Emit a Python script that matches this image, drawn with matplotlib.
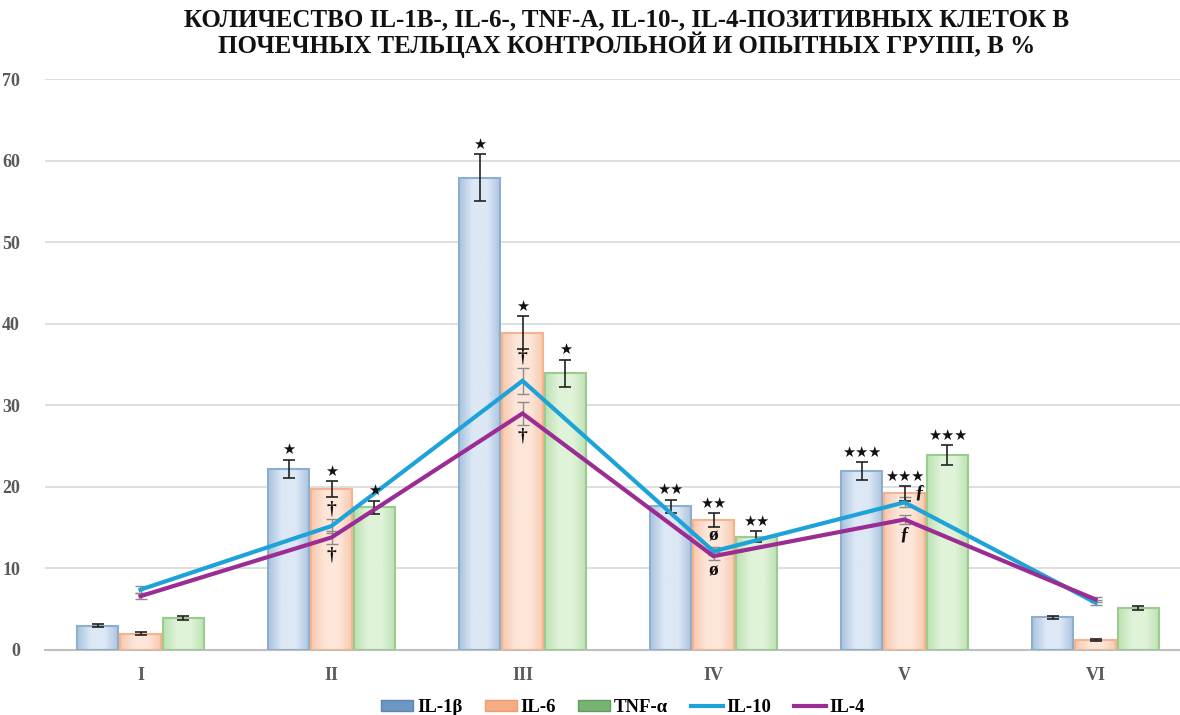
import numpy as np
import matplotlib.pyplot as plt
from matplotlib.patches import Patch
from matplotlib.lines import Line2D

groups = ['I', 'II', 'III', 'IV', 'V', 'VI']

il1b = [3.0, 22.2, 57.9, 17.6, 21.9, 4.0]
il1b_err = [0.2, 1.15, 2.9, 0.85, 1.1, 0.2]
il6 = [2.0, 19.7, 38.9, 15.9, 19.2, 1.2]
il6_err = [0.15, 1.0, 2.0, 0.85, 0.9, 0.1]
tnfa = [3.9, 17.5, 33.9, 13.9, 23.9, 5.1]
tnfa_err = [0.25, 0.8, 1.7, 0.7, 1.2, 0.25]

il10 = [7.4, 15.2, 33.0, 12.1, 18.1, 5.8]
il10_err = [0.4, 0.8, 1.6, 0.5, 0.6, 0.3]
il4 = [6.6, 13.8, 29.0, 11.5, 16.0, 6.2]
il4_err = [0.4, 0.8, 1.4, 0.5, 0.6, 0.3]

# significance marks over the bars, and marks tied to the IL-10 / IL-4 lines
bar_marks = ['', '★', '★', '★★', '★★★', '']
il10_marks = ['', '†', '†', 'ø', 'ƒ', '']
il4_marks = ['', '†', '†', 'ø', 'ƒ', '']

serif = ['Liberation Serif', 'DejaVu Serif']

fig = plt.figure(figsize=(11.8, 7.15), dpi=100)
ax = fig.add_axes([45 / 1180, 65 / 715, 1146 / 1180, 571 / 715])

x = np.arange(len(groups))
width = 0.215
offsets = [-0.225, 0.0, 0.225]

bar_series = [
    (il1b, il1b_err, ('#a9c3df', '#dde8f5'), '#8fadcc'),
    (il6, il6_err, ('#f8c9ae', '#fde6d9'), '#f3b48f'),
    (tnfa, tnfa_err, ('#bde1b3', '#dff3d8'), '#9bcb8f'),
]

for (vals, errs, (c_edge, c_mid), border), off in zip(bar_series, offsets):
    cmap = plt.matplotlib.colors.LinearSegmentedColormap.from_list('g', [c_edge, c_mid, c_mid, c_edge])
    grad = np.linspace(0, 1, 64).reshape(1, -1)
    for xi, v in zip(x + off, vals):
        ax.imshow(grad, cmap=cmap, aspect='auto', zorder=2,
                  extent=(xi - width / 2, xi + width / 2, 0, v))
    ax.bar(x + off, vals, width, facecolor='none', edgecolor=border, linewidth=1.5, zorder=3)
    ax.errorbar(x + off, vals, yerr=errs, fmt='none', ecolor='#222222',
                elinewidth=1.2, capsize=4, capthick=1.2, zorder=5)
    for xi, v, e, m in zip(x + off, vals, errs, bar_marks):
        if m:
            ax.text(xi, v + e + 0.3, m, ha='center', va='bottom', fontsize=10.5,
                    family='DejaVu Sans', color='#111111', zorder=6)

ax.errorbar(x, il10, yerr=il10_err, fmt='none', ecolor='#8c8c8c',
            elinewidth=1, capsize=4, capthick=1, zorder=4)
ax.errorbar(x, il4, yerr=il4_err, fmt='none', ecolor='#8c8c8c',
            elinewidth=1, capsize=4, capthick=1, zorder=4)
ax.plot(x, il10, color='#1ea3d8', linewidth=3, zorder=5, solid_joinstyle='miter')
ax.plot(x, il4, color='#9b2c93', linewidth=3, zorder=5, solid_joinstyle='miter')

for xi, v, e, m in zip(x, il10, il10_err, il10_marks):
    if m == 'ƒ':
        ax.text(xi + 0.08, v + e + 0.6, m, ha='center', va='center', fontsize=14,
                weight='bold', family=serif, color='#111111', zorder=6)
    elif m:
        ax.text(xi, v + e + 0.3, m, ha='center', va='bottom', fontsize=14,
                weight='bold', family=serif, color='#111111', zorder=6)
for xi, v, e, m in zip(x, il4, il4_err, il4_marks):
    if m:
        ax.text(xi, v - e - 0.3, m, ha='center', va='top', fontsize=14,
                weight='bold', family=serif, color='#111111', zorder=6)

ax.set_xlim(-0.5, 5.5)
ax.set_ylim(0, 70)
ax.set_yticks(range(0, 71, 10))
ax.set_xticks(x)
ax.set_xticklabels(groups)
ax.yaxis.grid(True, color='#d9d9d9', linewidth=1.2)
ax.set_axisbelow(True)
for s in ['top', 'right', 'left']:
    ax.spines[s].set_visible(False)
ax.spines['bottom'].set_color('#bfbfbf')
ax.spines['bottom'].set_linewidth(1.5)
ax.tick_params(length=0, pad=12)
for lbl in ax.get_xticklabels() + ax.get_yticklabels():
    lbl.set_family(serif)
    lbl.set_fontweight('bold')
    lbl.set_fontsize(13)
    lbl.set_color('#595959')
ax.tick_params(axis='y', pad=18)

fig.text(0.531, 0.988,
         'КОЛИЧЕСТВО IL-1B-, IL-6-, TNF-A, IL-10-, IL-4-ПОЗИТИВНЫХ КЛЕТОК В\n'
         'ПОЧЕЧНЫХ ТЕЛЬЦАХ КОНТРОЛЬНОЙ И ОПЫТНЫХ ГРУПП, В %',
         ha='center', va='top', fontsize=18, weight='bold', family=serif,
         linespacing=1.0, color='#111111')

handles = [
    Patch(facecolor='#6d97c2', edgecolor='#5b86b2'),
    Patch(facecolor='#f5ad86', edgecolor='#f09c70'),
    Patch(facecolor='#76b374', edgecolor='#5f9f5e'),
    Line2D([0], [0], color='#1ea3d8', linewidth=3),
    Line2D([0], [0], color='#9b2c93', linewidth=3),
]
labels = ['IL-1β', 'IL-6', 'TNF-α', 'IL-10', 'IL-4']
fig.legend(handles, labels, loc='lower center', bbox_to_anchor=(0.528, -0.025),
           ncol=5, frameon=False, handlelength=1.7, handleheight=0.5,
           columnspacing=1.2, handletextpad=0.2,
           prop={'family': serif, 'weight': 'bold', 'size': 13.5})

fig.savefig('out.png', dpi=100)
